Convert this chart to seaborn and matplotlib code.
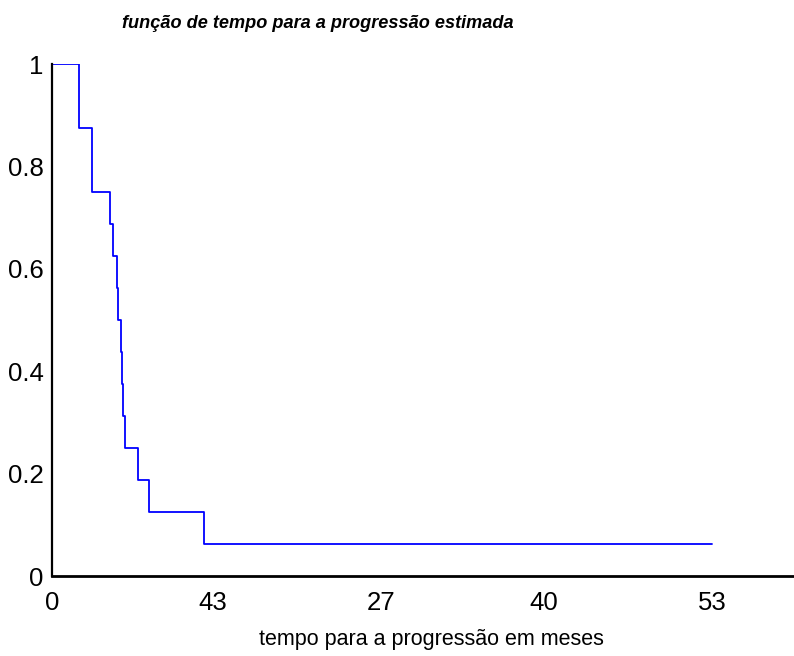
"""
Estimated time-to-progression step curve
"""

import matplotlib
matplotlib.use("Agg")
import matplotlib.pyplot as plt
from matplotlib import font_manager
import pandas as pd
import seaborn as sns

# Data
times = [0, 2.17, 3.24, 4.66, 4.92, 5.24, 5.30, 5.54, 5.62, 5.73, 5.86, 6.88, 7.79, 12.2, 53]
surv = [1, 0.875, 0.75, 0.6875, 0.625, 0.5625, 0.5, 0.4375, 0.375, 0.3125, 0.25,
        0.1875, 0.125, 0.0625, 0.0625]
x_ticks = [0, 12.9, 26.4, 39.5, 53]
x_tick_labels = ["0", "43", "27", "40", "53"]
y_ticks = [0, 0.2, 0.4, 0.6, 0.8, 1]
y_tick_labels = ["0", "0.2", "0.4", "0.6", "0.8", "1"]

title = "função de tempo para a progressão estimada"
xlabel = "tempo para a progressão em meses"

sns.set_theme(style="white")
names = {f.name for f in font_manager.fontManager.ttflist}
narrow = "Liberation Sans Narrow" if "Liberation Sans Narrow" in names else "Liberation Sans"
plt.rcParams["font.family"] = ["Liberation Sans", "DejaVu Sans"]

df = pd.DataFrame({"t": times, "s": surv})

fig = plt.figure(figsize=(7.94, 6.56), dpi=100)
ax = fig.add_axes([52 / 794, 1 - 576 / 656, 1 - 52 / 794, (576 - 64) / 656])

sns.lineplot(data=df, x="t", y="s", drawstyle="steps-post", color="#0000ff",
             linewidth=1.3, ax=ax)

ax.set_xlim(0, 59.6)
ax.set_ylim(0, 1)
ax.set_xticks(x_ticks)
ax.set_xticklabels(x_tick_labels, family=[narrow, "DejaVu Sans"], fontsize=18.5, color="black")
ax.set_yticks(y_ticks)
ax.set_yticklabels(y_tick_labels, family=[narrow, "DejaVu Sans"], fontsize=18.5, color="black")
ax.tick_params(axis="both", length=0)
ax.tick_params(axis="x", pad=11)
ax.tick_params(axis="y", pad=6)

for side in ["top", "right"]:
    ax.spines[side].set_visible(False)
for side in ["left", "bottom"]:
    ax.spines[side].set_color("black")
    ax.spines[side].set_linewidth(1.6)
ax.spines["bottom"].set_linewidth(2.0)

ax.set_xlabel("")
ax.set_ylabel("")
fig.text(431 / 794, 1 - 639 / 656, xlabel, ha="center", va="center",
         fontsize=15.5, family=[narrow, "DejaVu Sans"], color="black")
fig.text(122 / 794, 1 - 23 / 656, title, ha="left", va="center",
         fontsize=13.1, fontweight="bold", fontstyle="italic", color="black")

fig.savefig("out.png", dpi=100)
plt.close()
